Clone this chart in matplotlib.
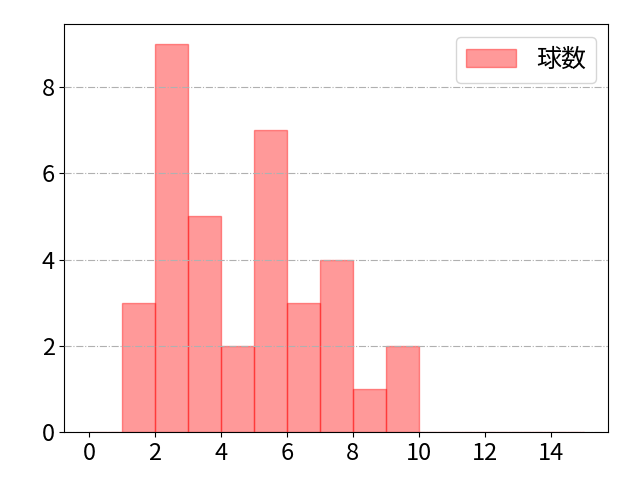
import numpy as np
import matplotlib as mpl
mpl.use('Agg')
import matplotlib.pyplot as plt

plt.rcParams['font.family'] = ['Noto Sans CJK JP', 'DejaVu Sans']

# pitch count histogram (values per bin)
bin_edges = list(range(0, 16))
counts = [0, 3, 9, 5, 2, 7, 3, 4, 1, 2, 0, 0, 0, 0, 0]
xticks = [0, 2, 4, 6, 8, 10, 12, 14]
label = '球数'

fig = plt.figure(figsize=(6.4, 4.8), dpi=100)
ax = fig.add_subplot(111)

ax.hist(bin_edges[:-1], bins=bin_edges, weights=counts, color='red', alpha=0.4,
        edgecolor='red', label=label)
ax.grid(axis='y', linestyle='-.', color='#b0b0b0', linewidth=0.8)
ax.set_axisbelow(False)
ax.set_xticks(xticks)
ax.tick_params(labelsize=17)
ax.legend(fontsize=18, loc='upper right')
fig.subplots_adjust(left=0.1005, right=0.9505, top=0.949, bottom=0.1)
plt.savefig('out.png')
